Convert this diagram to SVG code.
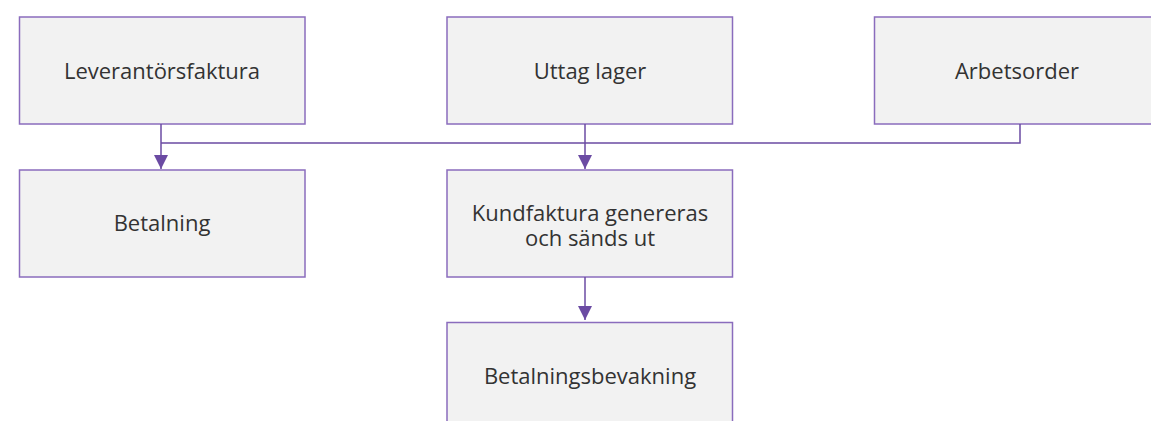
<svg xmlns="http://www.w3.org/2000/svg" width="1151" height="421" viewBox="0 0 1151 421">
<defs>
<style>
.box{fill:#f2f2f2;stroke:#8a6cbd;stroke-width:1.5}
.lbl{font-family:"Open Sans","Noto Sans",sans-serif;font-size:22px;fill:#333;text-anchor:middle}
.conn{fill:none;stroke:#6b4ba3;stroke-width:1.5}
</style>
<marker id="arr" viewBox="0 0 14 14" refX="14" refY="7" markerWidth="14" markerHeight="14" markerUnits="userSpaceOnUse" orient="auto">
<path d="M0,0 L14,7 L0,14 Z" fill="#6b4ba3"/>
</marker>
</defs>
<rect width="1151" height="421" fill="#fff"/>
<g id="n-leverantorsfaktura"><rect class="box" x="19.5" y="17" width="285.5" height="107"/><text class="lbl" x="162" y="79">Leverantörsfaktura</text></g>
<g id="n-uttag"><rect class="box" x="447" y="17" width="285.5" height="107"/><text class="lbl" x="590" y="79">Uttag lager</text></g>
<g id="n-arbetsorder"><rect class="box" x="874.5" y="17" width="285.5" height="107"/><text class="lbl" x="1017" y="79">Arbetsorder</text></g>
<g id="n-betalning"><rect class="box" x="19.5" y="170" width="285.5" height="107"/><text class="lbl" x="162" y="231">Betalning</text></g>
<g id="n-kundfaktura"><rect class="box" x="447" y="170" width="285.5" height="107"/><text class="lbl" x="590" y="221"><tspan x="590" y="221">Kundfaktura genereras</tspan><tspan x="590" y="245.5">och sänds ut</tspan></text></g>
<g id="n-betalningsbevakning"><rect class="box" x="447" y="322.5" width="285.5" height="107"/><text class="lbl" x="590" y="384">Betalningsbevakning</text></g>
<g id="connectors">
<path class="conn" d="M1020,124 V143 H161"/>
<path class="conn" d="M161,124 V169" marker-end="url(#arr)"/>
<path class="conn" d="M585,124 V169" marker-end="url(#arr)"/>
<path class="conn" d="M585,277 V320" marker-end="url(#arr)"/>
</g>
</svg>
